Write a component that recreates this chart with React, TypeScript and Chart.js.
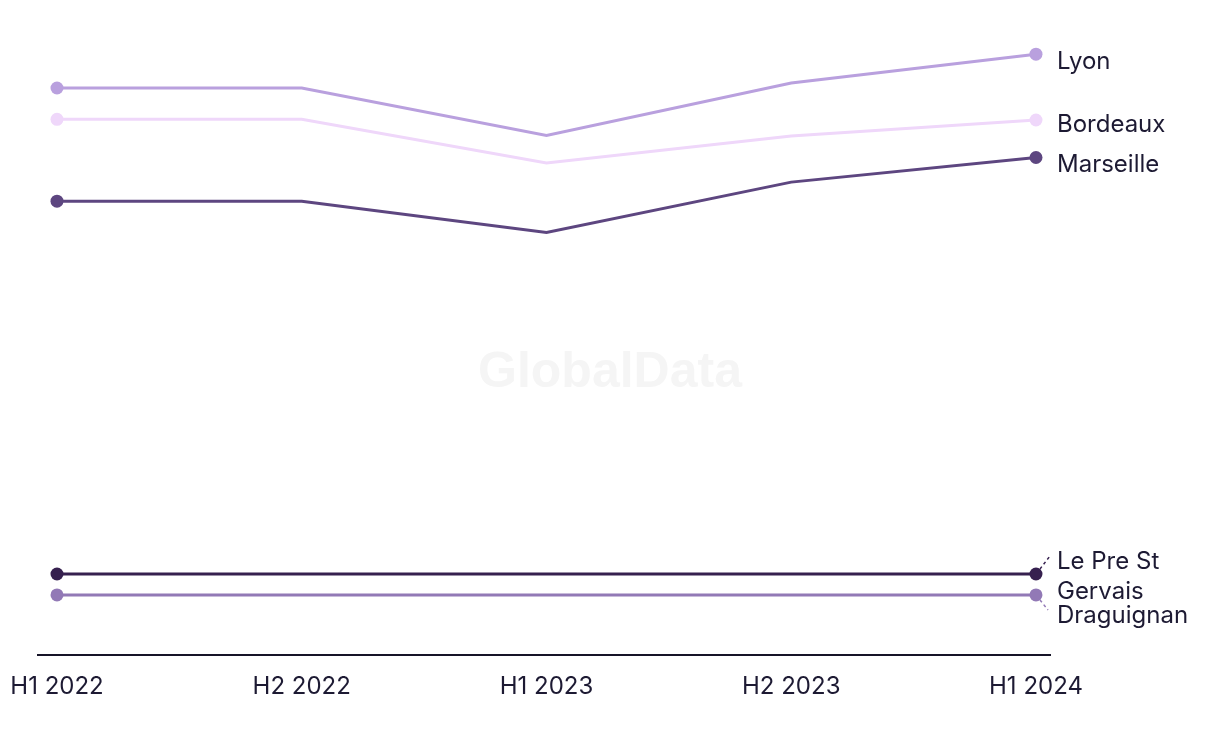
import React, { useEffect, useRef } from "react";
import { Chart, registerables } from "chart.js";

Chart.register(...registerables);

const categories = ["H1 2022", "H2 2022", "H1 2023", "H2 2023", "H1 2024"];
const seriesNames = ["Lyon", "Bordeaux", "Marseille", "Le Pre St Gervais", "Draguignan"];
const lyon = [92.2, 92.2, 84.5, 93.0, 97.7];
const bordeaux = [87.1, 87.1, 80.0, 84.4, 87.0];
const marseille = [73.8, 73.8, 68.7, 76.9, 80.9];
const lePreStGervais = [13.2, 13.2, 13.2, 13.2, 13.2];
const draguignan = [9.8, 9.8, 9.8, 9.8, 9.8];
const seriesColors = ["#b9a0de", "#efd7fa", "#5d4680", "#36204f", "#9279b6"];

const TEXT_COLOR = "#1d1a33";
const FONT = "Inter, 'Liberation Sans', sans-serif";

const allSeries = [lyon, bordeaux, marseille, lePreStGervais, draguignan];

const labelPlugin = {
  id: "endLabels",
  beforeDatasetsDraw(chart: any) {
    const ctx = chart.ctx;
    ctx.save();
    ctx.font = `bold 50px 'Liberation Sans', Arial, sans-serif`;
    ctx.fillStyle = "#f5f5f5";
    ctx.textAlign = "center";
    ctx.textBaseline = "middle";
    ctx.fillText("GlobalData", 610, 373);
    ctx.restore();
  },
  afterDatasetsDraw(chart: any) {
    const ctx = chart.ctx;
    ctx.save();
    ctx.font = `24px ${FONT}`;
    ctx.fillStyle = TEXT_COLOR;
    ctx.textAlign = "left";
    ctx.textBaseline = "middle";
    const pts = chart.data.datasets.map((_: any, i: number) => {
      const meta = chart.getDatasetMeta(i);
      const last = meta.data[meta.data.length - 1];
      return { x: last.x, y: last.y };
    });
    const tx = pts[0].x + 21;
    ctx.fillText(seriesNames[0], tx, pts[0].y + 8);
    ctx.fillText(seriesNames[1], tx, pts[1].y + 5);
    ctx.fillText(seriesNames[2], tx, pts[2].y + 7);
    const pLe = pts[3];
    ctx.fillText("Le Pre St", tx, pLe.y - 12);
    ctx.fillText("Gervais", tx, pLe.y + 18);
    const pDr = pts[4];
    ctx.fillText(seriesNames[4], tx, pDr.y + 21);
    ctx.setLineDash([3, 3]);
    ctx.lineWidth = 1.5;
    ctx.strokeStyle = seriesColors[3];
    ctx.beginPath();
    ctx.moveTo(pLe.x + 4, pLe.y - 5);
    ctx.lineTo(pLe.x + 14, pLe.y - 18);
    ctx.stroke();
    ctx.strokeStyle = seriesColors[4];
    ctx.beginPath();
    ctx.moveTo(pDr.x + 4, pDr.y + 5);
    ctx.lineTo(pDr.x + 12, pDr.y + 15);
    ctx.stroke();
    ctx.restore();
  },
};

export default function App() {
  const ref = useRef<HTMLCanvasElement | null>(null);
  useEffect(() => {
    if (!ref.current) return;
    const chart = new Chart(ref.current, {
      type: "line",
      data: {
        datasets: allSeries.map((vals, i) => ({
          label: seriesNames[i],
          data: vals.map((v, j) => ({ x: j, y: v })),
          borderColor: seriesColors[i],
          backgroundColor: seriesColors[i],
          borderWidth: 3,
          pointRadius: vals.map((_, j) => (j === 0 || j === vals.length - 1 ? 6.5 : 0)),
          pointHoverRadius: 0,
          pointBorderWidth: 0,
          tension: 0,
          fill: false,
          clip: false as any,
        })),
      },
      options: {
        animation: false,
        responsive: false,
        maintainAspectRatio: false,
        layout: { padding: { left: 38, right: 170, top: 40, bottom: 26 } },
        plugins: { legend: { display: false }, tooltip: { enabled: false } },
        scales: {
          x: {
            type: "linear",
            min: -0.0776,
            max: 4.0573,
            grid: { display: false, drawTicks: false },
            border: { display: true, color: "#161428", width: 2 },
            afterBuildTicks: (axis: any) => {
              axis.ticks = categories.map((_, i) => ({ value: i }));
            },
            afterFit: (axis: any) => {
              axis.paddingLeft = 0;
              axis.paddingRight = 0;
            },
            ticks: {
              padding: 17,
              color: TEXT_COLOR,
              font: { family: FONT, size: 24 },
              maxRotation: 0,
              autoSkip: false,
              callback: (v: any) => categories[Math.round(Number(v))] ?? "",
            },
          },
          y: {
            display: false,
            min: 0,
            max: 100,
          },
        },
      },
      plugins: [labelPlugin],
    });
    return () => chart.destroy();
  }, []);
  return (
    <div style={{ position: "absolute", left: 0, top: 0, width: 1220, height: 744, background: "#fff" }}>
      <canvas ref={ref} width={1220} height={744} style={{ display: "block" }} />
    </div>
  );
}
